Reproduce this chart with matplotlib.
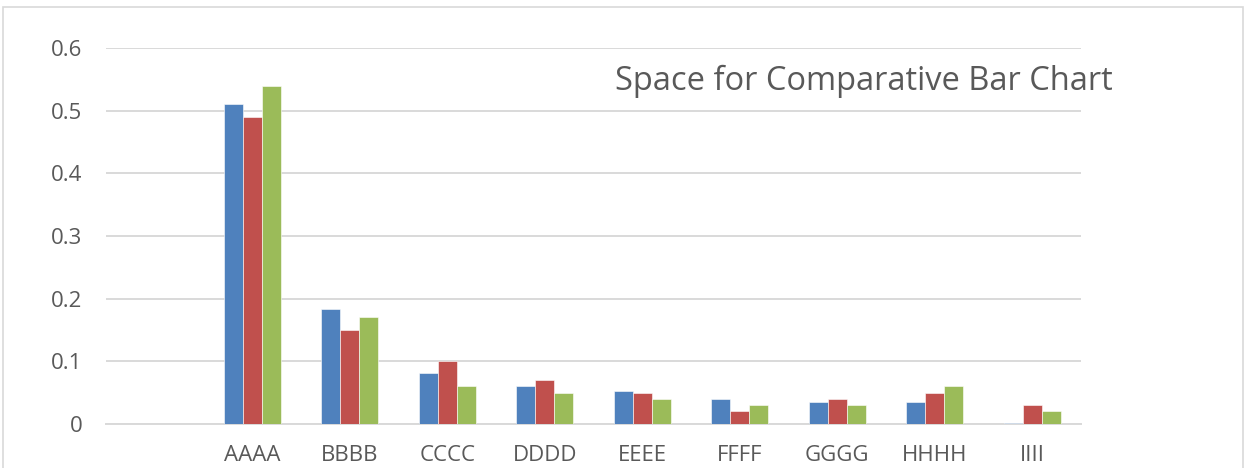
import numpy as np
import matplotlib.pyplot as plt
from matplotlib.patches import Rectangle

categories = ["", "AAAA", "BBBB", "CCCC", "DDDD", "EEEE", "FFFF", "GGGG", "HHHH", "IIII"]
series_1 = [0, 0.51, 0.183, 0.081, 0.06, 0.052, 0.04, 0.035, 0.035, 0.002]
series_2 = [0, 0.49, 0.15, 0.10, 0.07, 0.05, 0.02, 0.04, 0.05, 0.03]
series_3 = [0, 0.54, 0.17, 0.06, 0.05, 0.04, 0.03, 0.03, 0.06, 0.02]
colors = ["#4F81BD", "#C0504D", "#9BBB59"]

plt.rcParams['font.family'] = ['Open Sans', 'DejaVu Sans']

fig = plt.figure(figsize=(12.49, 4.68), dpi=100)
ax = fig.add_axes([106 / 1249, 44 / 468, 975 / 1249, 376 / 468])

x = np.arange(len(categories))
w = 0.195
for i, (vals, c) in enumerate(zip([series_1, series_2, series_3], colors)):
    ax.bar(x + (i - 1) * w, vals, width=w, color=c, edgecolor="white", linewidth=0.4, zorder=3)

ax.set_xlim(-0.5, len(categories) - 0.5)
ax.set_ylim(0, 0.6)
ax.set_yticks(np.arange(0, 0.61, 0.1))
ax.set_yticklabels(["0", "0.1", "0.2", "0.3", "0.4", "0.5", "0.6"])
ax.set_xticks(x)
ax.set_xticklabels(categories)
ax.grid(axis="y", color="#D9D9D9", linewidth=1.4, zorder=0)
for s in ["top", "right", "left"]:
    ax.spines[s].set_visible(False)
ax.spines["bottom"].set_color("#D9D9D9")
ax.spines["bottom"].set_linewidth(1.4)
ax.tick_params(axis="both", length=0, labelsize=16, labelcolor="#595959")
ax.tick_params(axis="y", pad=17)
ax.tick_params(axis="x", pad=15)

ax.text(0.522, 0.91, "Space for Comparative Bar Chart", transform=ax.transAxes,
        ha="left", va="center", fontsize=23.5, color="#595959")

# outer chart frame
fig.add_artist(Rectangle((3 / 1249, -0.1), 1240 / 1249, (461 / 468) + 0.1,
                         transform=fig.transFigure, fill=False,
                         edgecolor="#D9D9D9", linewidth=1.2))

fig.savefig("out.png", dpi=100)
